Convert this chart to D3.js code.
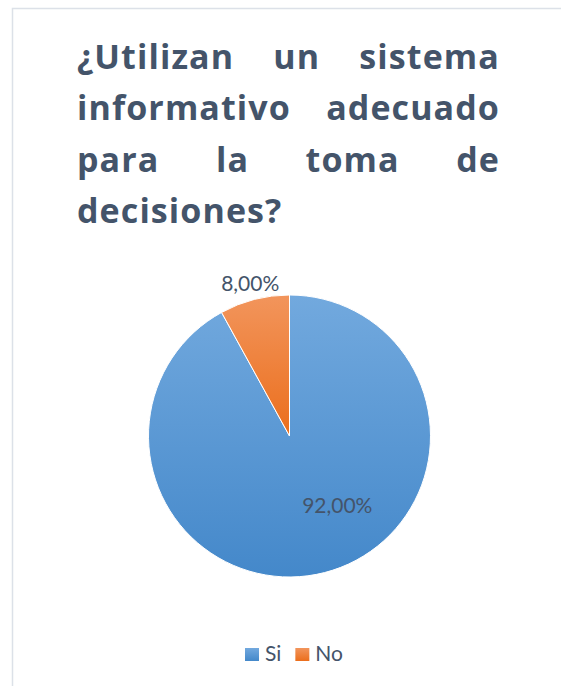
<!DOCTYPE html>
<html>
<head>
<meta charset="utf-8">
<script src="https://cdn.jsdelivr.net/npm/d3@7"></script>
<style>
  html, body { margin: 0; padding: 0; background: #fff; }
  svg { display: block; }
  text { font-variant-ligatures: none; }
</style>
</head>
<body>
<svg id="chart" width="561" height="686"></svg>
<script>
// data
var categories = ["Si", "No"];
var values = [92, 8];
var labels = ["92,00%", "8,00%"];
var titleLines = [
  "¿Utilizan un sistema",
  "informativo adecuado",
  "para la toma de",
  "decisiones?"
];

var width = 561, height = 686;
var svg = d3.select("#chart");
var textColor = "#44546a";

// frame of the chart area (runs off the right and bottom edges)
svg.append("rect")
  .attr("x", 12.5).attr("y", 8.5)
  .attr("width", 600).attr("height", 720)
  .attr("fill", "#fff")
  .attr("stroke", "#dce1e8")
  .attr("stroke-width", 1.5);

//
// Title, justified between left and right
//
var tLeft = 77, tRight = 500, tTop = 69, tStep = 51.3;
titleLines.forEach(function(line, i)
{
  var words = line.split(" ");
  var g = svg.append("g");
  var nodes = words.map(function(w) {
    return g.append("text")
      .attr("y", tTop + i * tStep)
      .attr("font-family", "'Open Sans', sans-serif")
      .attr("font-weight", "bold")
      .attr("font-size", 34)
      .attr("letter-spacing", 1.1)
      .attr("fill", textColor)
      .text(w);
  });
  var widths = nodes.map(function(n) { return n.node().getComputedTextLength(); });
  if (i == titleLines.length - 1 || words.length < 2) {
    // last line is left aligned
    var x = tLeft;
    nodes.forEach(function(n, k) { n.attr("x", x); x += widths[k] + 9; });
    return;
  }
  var gap = (tRight - tLeft - d3.sum(widths)) / (words.length - 1);
  var x = tLeft;
  nodes.forEach(function(n, k) { n.attr("x", x); x += widths[k] + gap; });
});

//
// Pie
//
var cx = 289.5, cy = 436, r = 141;
var color = d3.scaleOrdinal().domain(categories).range(["blue", "orange"]);
var grads = {
  blue: ["#72a9de", "#4488ca"],
  orange: ["#f2955c", "#eb6e1c"]
};
var defs = svg.append("defs");
Object.keys(grads).forEach(function(k)
{
  var lg = defs.append("linearGradient")
    .attr("id", "grad-" + k)
    .attr("x1", 0).attr("y1", 0).attr("x2", 0).attr("y2", 1);
  lg.append("stop").attr("offset", "0%").attr("stop-color", grads[k][0]);
  lg.append("stop").attr("offset", "100%").attr("stop-color", grads[k][1]);
});

var pie = d3.pie().sort(null).value(function(d) { return d.value; });
var data = categories.map(function(c, i) { return {name: c, value: values[i], label: labels[i]}; });
var arcs = pie(data);
var arc = d3.arc().innerRadius(0).outerRadius(r);

var pg = svg.append("g").attr("transform", "translate(" + cx + "," + cy + ")");
pg.selectAll("path.slice")
  .data(arcs)
  .enter().append("path")
  .attr("class", "slice")
  .attr("d", arc)
  .attr("fill", function(d) { return "url(#grad-" + color(d.data.name) + ")"; })
  .attr("stroke", "#fff")
  .attr("stroke-width", 1);

// data labels: the big slice inside, the small one outside
function labelPos(d)
{
  var mid = (d.startAngle + d.endAngle) / 2;
  if (d.endAngle - d.startAngle > Math.PI) {
    return d3.pointRadial(mid - 20 * Math.PI / 180, r * 0.6);
  }
  return d3.pointRadial(mid, r + 17);
}
pg.selectAll("text.lbl")
  .data(arcs)
  .enter().append("text")
  .attr("class", "lbl")
  .attr("x", function(d) { return labelPos(d)[0]; })
  .attr("y", function(d) { return labelPos(d)[1]; })
  .attr("dy", "0.36em")
  .attr("text-anchor", "middle")
  .attr("font-family", "Lato, sans-serif")
  .attr("font-size", 21)
  .attr("fill", textColor)
  .text(function(d) { return d.data.label; });

//
// Legend
//
var legend = svg.append("g");
var lx = 245, ly = 661;
categories.forEach(function(c, i)
{
  var item = legend.append("g");
  item.append("rect")
    .attr("x", 0).attr("y", -13)
    .attr("width", 14).attr("height", 13)
    .attr("fill", "url(#grad-" + color(c) + ")");
  var t = item.append("text")
    .attr("x", 20).attr("y", 0)
    .attr("font-family", "Lato, sans-serif")
    .attr("font-size", 21)
    .attr("fill", textColor)
    .text(c);
  item.attr("transform", "translate(" + lx + "," + ly + ")");
  lx += 20 + t.node().getComputedTextLength() + 14;
});
</script>
</body>
</html>
